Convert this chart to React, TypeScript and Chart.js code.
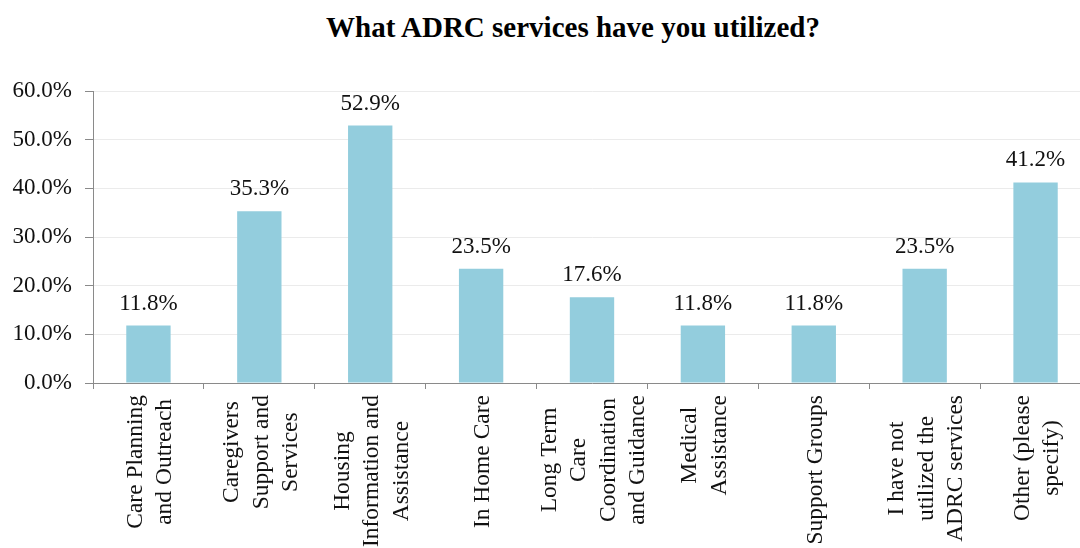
import React, { useEffect, useRef } from 'react';
import { Chart, registerables } from 'chart.js';

Chart.register(...registerables);

const TITLE = 'What ADRC services have you utilized?';

const categories: string[][] = [
  ['Care Planning', 'and Outreach'],
  ['Caregivers', 'Support and', 'Services'],
  ['Housing', 'Information and', 'Assistance'],
  ['In Home Care'],
  ['Long Term', 'Care', 'Coordination', 'and Guidance'],
  ['Medical', 'Assistance'],
  ['Support Groups'],
  ['I have not', 'utilized the', 'ADRC services'],
  ['Other (please', 'specify)'],
];

const values: number[] = [11.8, 35.3, 52.9, 23.5, 17.6, 11.8, 11.8, 23.5, 41.2];

const yMin = 0;
const yMax = 60;
const yStep = 10;

const SERIF = '"Liberation Serif", "Times New Roman", serif';
const BAR_COLOR = '#93CDDD';
const AXIS_COLOR = '#8a8a8a';
const GRID_COLOR = '#ebebeb';
const TEXT_SIZE = 23;

const valueLabelPlugin = {
  id: 'valueLabels',
  afterDatasetsDraw(chart: any) {
    const { ctx } = chart;
    const meta = chart.getDatasetMeta(0);
    ctx.save();
    ctx.font = `${TEXT_SIZE}px ${SERIF}`;
    ctx.fillStyle = '#111';
    ctx.textAlign = 'center';
    ctx.textBaseline = 'alphabetic';
    meta.data.forEach((bar: any, i: number) => {
      const v = chart.data.datasets[0].data[i] as number;
      ctx.fillText(v.toFixed(1) + '%', bar.x, bar.y - 16);
    });
    ctx.restore();
  },
};

const xLabelPlugin = {
  id: 'xLabels',
  afterDraw(chart: any) {
    const { ctx } = chart;
    const xs = chart.scales.x;
    const axisY = chart.chartArea.bottom;
    const pad = 12;
    const lineH = 29.5;
    ctx.save();
    ctx.font = `23.5px ${SERIF}`;
    ctx.fillStyle = '#111';
    ctx.textAlign = 'center';
    ctx.textBaseline = 'middle';
    categories.forEach((lines, i) => {
      const cx = xs.getPixelForTick(i) + 2;
      const maxW = Math.max(...lines.map((l) => ctx.measureText(l).width));
      ctx.save();
      ctx.translate(cx, axisY);
      ctx.rotate(-Math.PI / 2);
      const n = lines.length;
      lines.forEach((line, k) => {
        const off = (k - (n - 1) / 2) * lineH;
        ctx.fillText(line, -(pad + maxW / 2), off);
      });
      ctx.restore();
    });
    ctx.restore();
  },
};

export default function App() {
  const canvasRef = useRef<HTMLCanvasElement | null>(null);

  useEffect(() => {
    const canvas = canvasRef.current;
    if (!canvas) return;
    const chart = new Chart(canvas, {
      type: 'bar',
      data: {
        labels: categories.map((c) => c.join(' ')),
        datasets: [
          {
            data: values,
            backgroundColor: BAR_COLOR,
            borderWidth: 0,
            barPercentage: 0.4,
            categoryPercentage: 1,
          },
        ],
      },
      options: {
        responsive: false,
        animation: false,
        devicePixelRatio: 1,
        layout: { padding: { top: 91, right: 1, bottom: 0, left: 0 } },
        plugins: {
          legend: { display: false },
          title: { display: false },
          tooltip: { enabled: false },
        },
        scales: {
          x: {
            offset: true,
            border: { display: true, color: AXIS_COLOR, width: 1 },
            grid: {
              display: true,
              offset: true,
              drawOnChartArea: false,
              drawTicks: true,
              tickLength: 6,
              tickColor: AXIS_COLOR,
            },
            ticks: { display: false },
            afterFit(scale: any) {
              scale.height = 165;
            },
          },
          y: {
            min: yMin,
            max: yMax,
            border: { display: true, color: AXIS_COLOR, width: 1 },
            grid: {
              color: GRID_COLOR,
              tickColor: AXIS_COLOR,
              tickLength: 8,
            },
            ticks: {
              stepSize: yStep,
              padding: 13,
              color: '#111',
              font: { family: SERIF, size: TEXT_SIZE },
              callback: (v: any) => Number(v).toFixed(1) + '%',
            },
            afterFit(scale: any) {
              scale.width = 93;
            },
          },
        },
      },
      plugins: [valueLabelPlugin, xLabelPlugin],
    });
    return () => chart.destroy();
  }, []);

  return (
    <div
      style={{
        position: 'absolute',
        left: 0,
        top: 0,
        width: 1080,
        height: 548,
        overflow: 'hidden',
        background: '#fff',
      }}
    >
      <div
        style={{
          position: 'absolute',
          left: 0,
          top: 13,
          width: 1146,
          textAlign: 'center',
          font: `bold 29px ${SERIF}`,
          lineHeight: '29px',
          whiteSpace: 'nowrap',
          color: '#000',
        }}
      >
        {TITLE}
      </div>
      <canvas
        ref={canvasRef}
        width={1092}
        height={548}
        style={{ position: 'absolute', left: 0, top: 0, width: 1092, height: 548 }}
      />
    </div>
  );
}
